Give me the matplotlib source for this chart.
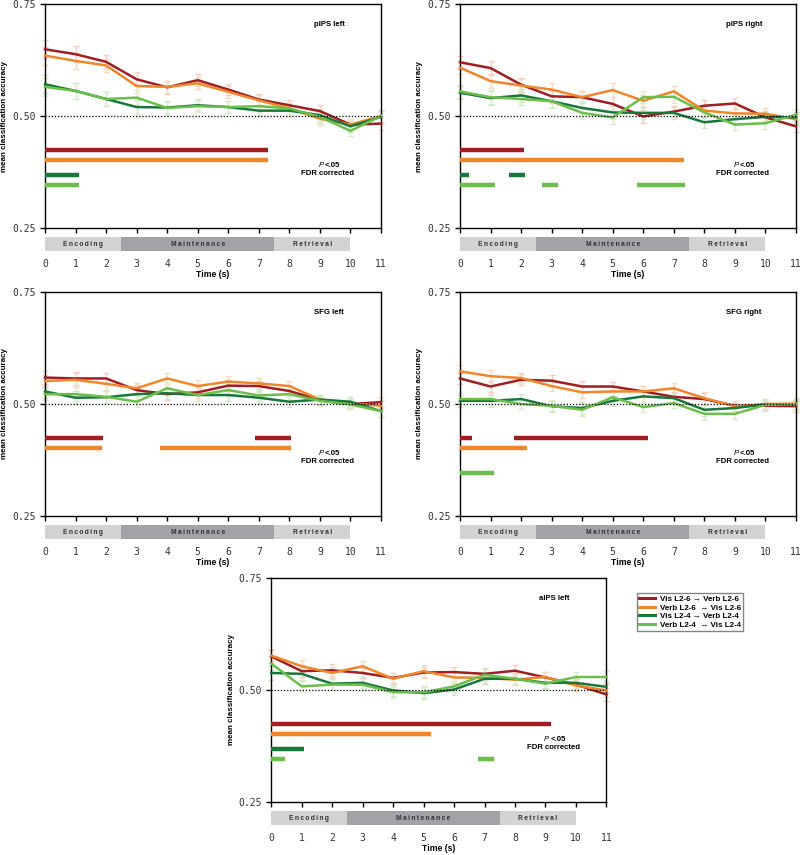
import numpy as np
import matplotlib
matplotlib.use('Agg')
import matplotlib.pyplot as plt
from matplotlib.lines import Line2D
from matplotlib.patches import Rectangle
import matplotlib.transforms as mtrans

plt.rcParams['font.family'] = ['Liberation Sans', 'DejaVu Sans']

time_s = list(range(12))
series_names = ['Vis L2-6 \u2192 Verb L2-6', 'Verb L2-6  \u2192 Vis L2-6',
                'Vis L2-4 \u2192 Verb L2-4', 'Verb L2-4  \u2192 Vis L2-4']
colors = ['#a01d22', '#f0862c', '#18773a', '#6abf4b']
err_colors = ['#f6cbc3', '#f8d9bf', '#cfe5c8', '#d9ecca']
sig_levels = [0.425, 0.402, 0.369, 0.345]

# mean classification accuracy per region: vis->verb 6, verb->vis 6, vis->verb 4, verb->vis 4
pips_left = [
    [0.649, 0.638, 0.621, 0.582, 0.564, 0.580, 0.559, 0.537, 0.524, 0.511, 0.481, 0.483],
    [0.635, 0.623, 0.613, 0.567, 0.565, 0.573, 0.554, 0.535, 0.517, 0.494, 0.481, 0.500],
    [0.571, 0.556, 0.538, 0.520, 0.519, 0.524, 0.520, 0.512, 0.512, 0.502, 0.477, 0.498],
    [0.565, 0.556, 0.538, 0.541, 0.518, 0.522, 0.520, 0.522, 0.517, 0.498, 0.467, 0.500],
]
pips_right = [
    [0.620, 0.607, 0.570, 0.544, 0.542, 0.527, 0.499, 0.510, 0.523, 0.528, 0.497, 0.477],
    [0.608, 0.578, 0.568, 0.559, 0.542, 0.558, 0.534, 0.555, 0.512, 0.506, 0.505, 0.493],
    [0.552, 0.540, 0.546, 0.533, 0.518, 0.508, 0.507, 0.507, 0.486, 0.493, 0.498, 0.497],
    [0.555, 0.542, 0.538, 0.533, 0.507, 0.497, 0.542, 0.543, 0.508, 0.481, 0.484, 0.503],
]
sfg_left = [
    [0.559, 0.557, 0.557, 0.531, 0.522, 0.526, 0.541, 0.540, 0.529, 0.509, 0.500, 0.504],
    [0.551, 0.554, 0.545, 0.535, 0.557, 0.540, 0.550, 0.546, 0.540, 0.510, 0.501, 0.496],
    [0.528, 0.514, 0.515, 0.522, 0.524, 0.520, 0.520, 0.514, 0.505, 0.510, 0.505, 0.484],
    [0.522, 0.522, 0.516, 0.505, 0.535, 0.520, 0.531, 0.519, 0.522, 0.507, 0.499, 0.484],
]
sfg_right = [
    [0.557, 0.539, 0.554, 0.552, 0.539, 0.539, 0.528, 0.516, 0.511, 0.496, 0.496, 0.495],
    [0.573, 0.562, 0.558, 0.540, 0.526, 0.528, 0.528, 0.535, 0.513, 0.495, 0.500, 0.501],
    [0.507, 0.507, 0.511, 0.495, 0.491, 0.507, 0.517, 0.513, 0.487, 0.491, 0.499, 0.498],
    [0.511, 0.511, 0.500, 0.496, 0.487, 0.515, 0.493, 0.502, 0.478, 0.478, 0.498, 0.500],
]
aips_left = [
    [0.575, 0.542, 0.544, 0.538, 0.527, 0.539, 0.540, 0.536, 0.543, 0.528, 0.512, 0.490],
    [0.577, 0.553, 0.538, 0.553, 0.525, 0.542, 0.528, 0.527, 0.523, 0.529, 0.510, 0.499],
    [0.538, 0.536, 0.514, 0.516, 0.499, 0.493, 0.501, 0.525, 0.525, 0.516, 0.516, 0.507],
    [0.559, 0.508, 0.512, 0.512, 0.495, 0.495, 0.508, 0.534, 0.525, 0.514, 0.529, 0.529],
]

# approximate standard errors per region
err_pips_left = [0.020, 0.018, 0.015, 0.016, 0.014, 0.013, 0.013, 0.013, 0.012, 0.013, 0.012, 0.014]
err_pips_right = [0.015, 0.015, 0.014, 0.015, 0.014, 0.015, 0.014, 0.013, 0.012, 0.012, 0.013, 0.012]
err_sfg_left = [0.014, 0.015, 0.013, 0.012, 0.013, 0.013, 0.013, 0.012, 0.012, 0.011, 0.011, 0.012]
err_sfg_right = [0.013, 0.013, 0.012, 0.012, 0.013, 0.011, 0.012, 0.011, 0.013, 0.011, 0.011, 0.012]
err_aips_left = [0.015, 0.013, 0.013, 0.012, 0.012, 0.013, 0.012, 0.012, 0.012, 0.012, 0.012, 0.014]

# significant stretches (start, end in s) per series
sig_pips_left = [[(0, 7.3)], [(0, 7.3)], [(0, 1.12)], [(0, 1.12)]]
sig_pips_right = [[(0, 2.1)], [(0, 7.32)], [(0, 0.3), (1.6, 2.12)],
                  [(0, 1.16), (2.69, 3.21), (5.81, 7.36)]]
sig_sfg_left = [[(0, 1.89), (6.88, 8.06)], [(0, 1.86), (3.77, 8.06)], [], []]
sig_sfg_right = [[(0, 0.39), (1.78, 6.17)], [(0, 2.19)], [], [(0, 1.1)]]
sig_aips_left = [[(0, 9.19)], [(0, 5.25)], [(0, 1.07)], [(0, 0.44), (6.8, 7.3)]]

phases = ['Encoding', 'Maintenance', 'Retrieval']
phase_start = [0, 2.5, 7.5]
phase_end = [2.5, 7.5, 10]
phase_colors = ['#d3d3d3', '#a3a3a7', '#d3d3d3']

panels = [
    ('pIPS left', pips_left, err_pips_left, sig_pips_left, [0.05625, 0.7333, 0.42, 0.262]),
    ('pIPS right', pips_right, err_pips_right, sig_pips_right, [0.575, 0.7333, 0.42, 0.262]),
    ('SFG left', sfg_left, err_sfg_left, sig_sfg_left, [0.05625, 0.3965, 0.42, 0.262]),
    ('SFG right', sfg_right, err_sfg_right, sig_sfg_right, [0.575, 0.3965, 0.42, 0.262]),
    ('aIPS left', aips_left, err_aips_left, sig_aips_left, [0.339, 0.062, 0.419, 0.262]),
]

fig = plt.figure(figsize=(8, 8.55), dpi=100)

for title, data, err, sig, rect in panels:
    ax = fig.add_axes(rect)
    for k in range(4):
        ax.errorbar(time_s, data[k], yerr=err, fmt='none', ecolor=err_colors[k],
                    elinewidth=1.0, capsize=2.5, capthick=1.0, clip_on=False, zorder=2)
    for k in range(4):
        ax.plot(time_s, data[k], color=colors[k], linewidth=1.8, zorder=3, clip_on=False)
        for (s, e) in sig[k]:
            ax.plot([s, e], [sig_levels[k], sig_levels[k]], color=colors[k],
                    linewidth=3.2, solid_capstyle='butt', zorder=3)
    ax.plot([0, 11], [0.5, 0.5], color='black', linestyle=(0, (1, 1.5)), linewidth=0.9, zorder=4)

    ax.set_xlim(0, 11)
    ax.set_ylim(0.25, 0.75)
    ax.set_yticks([0.25, 0.50, 0.75])
    ax.set_yticklabels(['0.25', '0.50', '0.75'], family='DejaVu Sans Mono', fontsize=7,
                       color='#333333')
    ax.set_xticks(time_s)
    ax.set_xticklabels([str(t) for t in time_s], family='DejaVu Sans Mono', fontsize=7,
                       color='#333333')
    ax.tick_params(axis='x', direction='out', length=3.5, width=1, pad=18.5)
    ax.tick_params(axis='y', direction='out', length=3.5, width=1, pad=3)
    for sp in ax.spines.values():
        sp.set_linewidth(1.0)

    ax.set_xlabel('Time (s)', fontsize=6.2, fontweight='bold', labelpad=1)
    ax.set_ylabel('mean classification accuracy', fontsize=5.8, fontweight='bold', labelpad=3)

    # task phase bar under the time axis
    trans = mtrans.blended_transform_factory(ax.transData, ax.transAxes)
    for name, s, e, c in zip(phases, phase_start, phase_end, phase_colors):
        ax.add_patch(Rectangle((s, -0.103), e - s, 0.063, transform=trans,
                               facecolor=c, edgecolor='none', clip_on=False))
        ax.text((s + e) / 2, -0.0715, '\u2009'.join(name), transform=trans, ha='center',
                va='center', fontsize=4.8, color='#333333', fontweight='bold')

    ax.text(9.3, 0.705, title, ha='center', va='center', fontsize=5.6, fontweight='bold')
    ax.text(9.12, 0.389, 'P', ha='right', va='center', fontsize=5.6, style='italic')
    ax.text(9.16, 0.389, '<.05', ha='left', va='center', fontsize=5.6, fontweight='bold')
    ax.text(9.25, 0.371, 'FDR corrected', ha='center', va='center', fontsize=5.6,
            fontweight='bold')

handles = [Line2D([0], [0], color=c, linewidth=2.2) for c in colors]
leg = fig.legend(handles, series_names, loc='upper left', bbox_to_anchor=(0.796, 0.306),
                 frameon=True, fancybox=False, edgecolor='#666666',
                 prop={'weight': 'bold', 'size': 5.8}, handlelength=2.0, handletextpad=0.6,
                 borderpad=0.25, labelspacing=0.12, borderaxespad=0)
leg.get_frame().set_linewidth(1.0)

fig.savefig('out.png', dpi=100)
